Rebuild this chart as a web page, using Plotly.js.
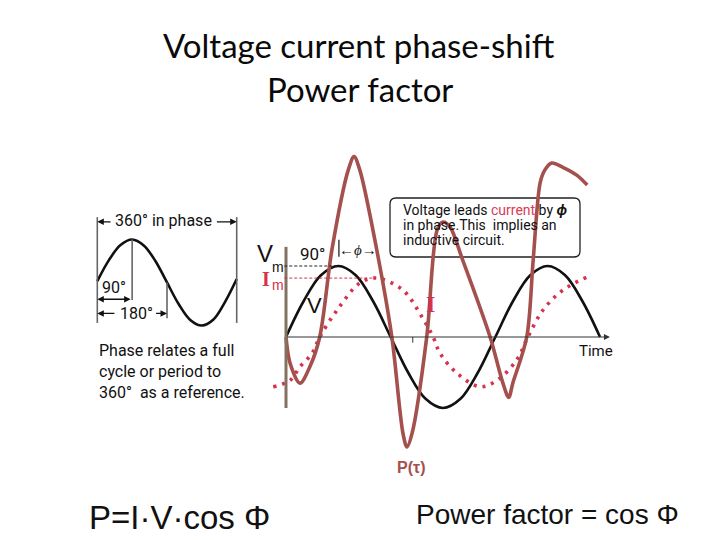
<!DOCTYPE html>
<html>
<head>
<meta charset="utf-8">
<script src="https://cdn.plot.ly/plotly-3.0.1.min.js"></script>
<style>html,body{margin:0;padding:0;background:#fff;}#chart{width:720px;height:540px;}</style>
</head>
<body>
<div id="chart"></div>
<script>
// ---------- data ----------
// left reference diagram: one full cycle, phase in degrees
const refPhase = [0, 30, 60, 90, 120, 150, 180, 210, 240, 270, 300, 330, 360];
const refWave  = [0.03, 0.52, 0.87, 1.0, 0.86, 0.5, 0.0, -0.5, -0.87, -1.0, -0.86, -0.45, 0.08];

// main diagram: voltage V (black)
const vPhase = [0, 30, 60, 90, 120, 150, 180, 210, 240, 270, 300, 330, 360, 390, 420, 450, 480, 510, 540];
const vValue = [0, 0.5, 0.87, 1.0, 0.87, 0.5, 0, -0.5, -0.87, -1.0, -0.87, -0.5, 0, 0.5, 0.87, 1.0, 0.87, 0.5, 0];

// current I (red dotted)
const iPhase = [-22, 7, 24, 45, 58, 88, 127, 156, 201, 234, 253, 265, 294, 334, 363, 397, 416, 442, 476, 519];
const iValue = [-0.70, -0.61, -0.42, -0.23, 0, 0.38, 0.76, 0.83, 0.66, 0.28, 0, -0.23, -0.51, -0.70, -0.61, -0.32, 0, 0.38, 0.66, 0.85];

// instantaneous power P(tau) (brown)
const pPhase = [0, 7, 24, 41, 58, 79, 107, 117, 127, 156, 182, 201, 208, 217, 242, 260, 270, 282, 304, 351, 373, 383, 390, 414, 425, 437, 445, 457, 476, 500, 518];
const pValue = [0, -0.37, -0.65, -0.42, 0, 1.23, 2.35, 2.54, 2.35, 1.23, 0, -1.35, -1.55, -1.35, 0, 1.51, 1.62, 1.55, 1.08, 0, -0.65, -0.85, -0.65, 0, 1.08, 2.17, 2.35, 2.45, 2.39, 2.28, 2.14];

// text
const titleLines = ['Voltage current phase-shift', 'Power factor'];
const refNotes = ['Phase relates a full', 'cycle or period to', '360°  as a reference.'];
const boxLines = ['Voltage leads <span style="color:#d93a55">current</span> by <b><i>ϕ</i></b>', 'in phase.This  implies an', 'inductive circuit.'];
const formulaLeft = 'P=I·V·cos Φ';
const formulaRight = 'Power factor = cos Φ';

// ---------- helpers ----------
const W = 720, H = 540;
const px = x => x / W;
const py = y => 1 - y / H;
const sans = 'Roboto, "Liberation Sans", sans-serif';
const arial = '"Liberation Sans", Arial, sans-serif';
const serif = '"Liberation Serif", "DejaVu Serif", serif';
const RED = '#d9304c';
const BROWN = '#a4504d';

function txt(text, x, y, size, opts) {
  return Object.assign({
    xref: 'paper', yref: 'paper', x: px(x), y: py(y), text: text, showarrow: false,
    xanchor: 'center', yanchor: 'middle',
    font: {family: sans, size: size, color: '#111'}
  }, opts || {});
}
function arrow(xr, yr, x, y, ax, ay, extra) {
  return Object.assign({
    xref: xr, yref: yr, axref: xr, ayref: yr, x: x, y: y, ax: ax, ay: ay, text: '',
    showarrow: true, arrowhead: 2, arrowsize: 1, arrowwidth: 1.3, arrowcolor: '#111', standoff: 0
  }, extra || {});
}

const traces = [
  {x: refPhase, y: refWave, xaxis: 'x2', yaxis: 'y2', mode: 'lines',
   line: {color: '#111', width: 2.6, shape: 'spline', smoothing: 1}, hoverinfo: 'skip'},
  {x: vPhase, y: vValue, mode: 'lines',
   line: {color: '#111', width: 2.6, shape: 'spline', smoothing: 1}, hoverinfo: 'skip'},
  {x: iPhase, y: iValue, mode: 'lines',
   line: {color: RED, width: 3.6, dash: '3px,6px', shape: 'spline', smoothing: 1}, hoverinfo: 'skip'},
  {x: pPhase, y: pValue, mode: 'lines',
   line: {color: BROWN, width: 3.6, shape: 'spline', smoothing: 0.9}, hoverinfo: 'skip'}
];

const shapes = [
  // left diagram guide lines
  {type: 'line', xref: 'x2', yref: 'y2', x0: 0, x1: 0, y0: 1.52, y1: -0.94, line: {color: '#666', width: 1.6}},
  {type: 'line', xref: 'x2', yref: 'y2', x0: 360, x1: 360, y0: 1.52, y1: -0.94, line: {color: '#666', width: 1.6}},
  {type: 'line', xref: 'x2', yref: 'y2', x0: 90, x1: 90, y0: 1.0, y1: -0.41, line: {color: '#666', width: 1.6}},
  {type: 'line', xref: 'x2', yref: 'y2', x0: 180, x1: 180, y0: 0.0, y1: -0.83, line: {color: '#666', width: 1.6}},
  // main diagram axes
  {type: 'line', xref: 'x', yref: 'y', x0: 0, x1: 550, y0: 0, y1: 0, line: {color: '#333', width: 1.2}},
  {type: 'line', xref: 'x', yref: 'y', x0: 218, x1: 218, y0: 0, y1: -0.08, line: {color: '#333', width: 1}},
  {type: 'line', xref: 'x', yref: 'y', x0: 0, x1: 0, y0: 1.27, y1: -1.0, line: {color: '#82725f', width: 3}},
  {type: 'line', xref: 'x', yref: 'y', x0: -3, x1: 88, y0: 1.0, y1: 1.0, line: {color: '#222', width: 1, dash: '3px,2px'}},
  {type: 'line', xref: 'x', yref: 'y', x0: -3, x1: 155, y0: 0.83, y1: 0.83, line: {color: RED, width: 1, dash: '3px,2px'}},
  {type: 'line', xref: 'x', yref: 'y', x0: 91, x1: 91, y0: 1.37, y1: 1.13, line: {color: '#111', width: 1.2}},
  // text box (rounded)
  {type: 'path', xref: 'paper', yref: 'paper', layer: 'below',
   path: (function () {
     const x0 = px(390), x1 = px(580), y0 = py(198), y1 = py(257), rx = px(6), ry = 6 / H;
     return `M ${x0 + rx} ${y0} L ${x1 - rx} ${y0} Q ${x1} ${y0} ${x1} ${y0 - ry} L ${x1} ${y1 + ry} Q ${x1} ${y1} ${x1 - rx} ${y1} L ${x0 + rx} ${y1} Q ${x0} ${y1} ${x0} ${y1 + ry} L ${x0} ${y0 - ry} Q ${x0} ${y0} ${x0 + rx} ${y0} Z`;
   })(),
   line: {color: '#222', width: 1.3}, fillcolor: 'rgba(255,255,255,0)'}
];

const titleFont = {family: 'Lato, "Open Sans", sans-serif', size: 33, color: '#0a0a0a'};

const annotations = [
  // titles
  txt(titleLines[0], 359, 45, 33, {font: titleFont}),
  txt(titleLines[1], 360, 89, 33, {font: titleFont}),
  // left diagram
  txt('360° in phase', 163, 221, 16, {bgcolor: '#fff'}),
  arrow('x2', 'y2', 0, 1.41, 38, 1.41),
  arrow('x2', 'y2', 360, 1.41, 305, 1.41),
  txt('90°', 114, 287, 16),
  arrow('x2', 'y2', 0, -0.39, 90, -0.39, {arrowside: 'end+start'}),
  txt('180°', 136, 313, 16),
  arrow('x2', 'y2', 0, -0.72, 48, -0.72),
  arrow('x2', 'y2', 180, -0.72, 148, -0.72),
  txt(refNotes[0], 97, 350, 16, {xanchor: 'left'}),
  txt(refNotes[1], 97, 371, 16, {xanchor: 'left'}),
  txt(refNotes[2], 97, 392, 16, {xanchor: 'left'}),
  // main diagram labels
  txt('V', 265, 254, 24, {font: {family: arial, size: 24, color: '#111'}}),
  txt('m', 278, 267, 14, {font: {family: arial, size: 14, color: '#111'}}),
  txt('<b>I</b>', 266, 279, 20, {font: {family: serif, size: 20, color: RED}}),
  txt('m', 278, 285, 14, {font: {family: arial, size: 14, color: RED}}),
  txt('90°', 312, 254, 17),
  txt('←<i>ϕ</i>→', 358, 250, 14, {font: {family: serif, size: 15, color: '#111'}}),
  txt('V', 314, 305, 22, {font: {family: arial, size: 22, color: '#111'}}),
  txt('<b>I</b>', 430, 304, 24, {font: {family: serif, size: 24, color: RED}}),
  txt('Time', 596, 351, 15),
  arrow('x', 'y', 557, 0, 545, 0, {arrowcolor: '#333', arrowwidth: 1.2}),
  txt(boxLines[0], 401, 210, 14, {xanchor: 'left'}),
  txt(boxLines[1], 401, 225, 14, {xanchor: 'left'}),
  txt(boxLines[2], 401, 240, 14, {xanchor: 'left'}),
  txt('<b>P(τ)</b>', 411, 467, 16, {font: {family: arial, size: 16, color: BROWN}}),
  // formulas
  txt(formulaLeft, 87, 517, 33, {xanchor: 'left', font: {family: arial, size: 33, color: '#111'}}),
  txt(formulaRight, 414, 514, 28, {xanchor: 'left', font: {family: arial, size: 28, color: '#111'}})
];

const layout = {
  width: W, height: H,
  margin: {l: 0, r: 0, t: 0, b: 0},
  paper_bgcolor: '#fff', plot_bgcolor: 'rgba(0,0,0,0)',
  showlegend: false,
  xaxis: {domain: [0.35, 0.85], range: [-58.47, 560.6], visible: false, fixedrange: true},
  yaxis: {domain: [0.15, 0.75], range: [-1.718, 2.845], visible: false, fixedrange: true},
  xaxis2: {domain: [0.1, 0.35], range: [-65.34, 399.5], visible: false, anchor: 'y2', fixedrange: true},
  yaxis2: {domain: [0.3, 0.7], range: [-2.221, 2.802], visible: false, anchor: 'x2', fixedrange: true},
  shapes: shapes,
  annotations: annotations
};

Plotly.newPlot('chart', traces, layout, {staticPlot: true, displayModeBar: false});
</script>
</body>
</html>
